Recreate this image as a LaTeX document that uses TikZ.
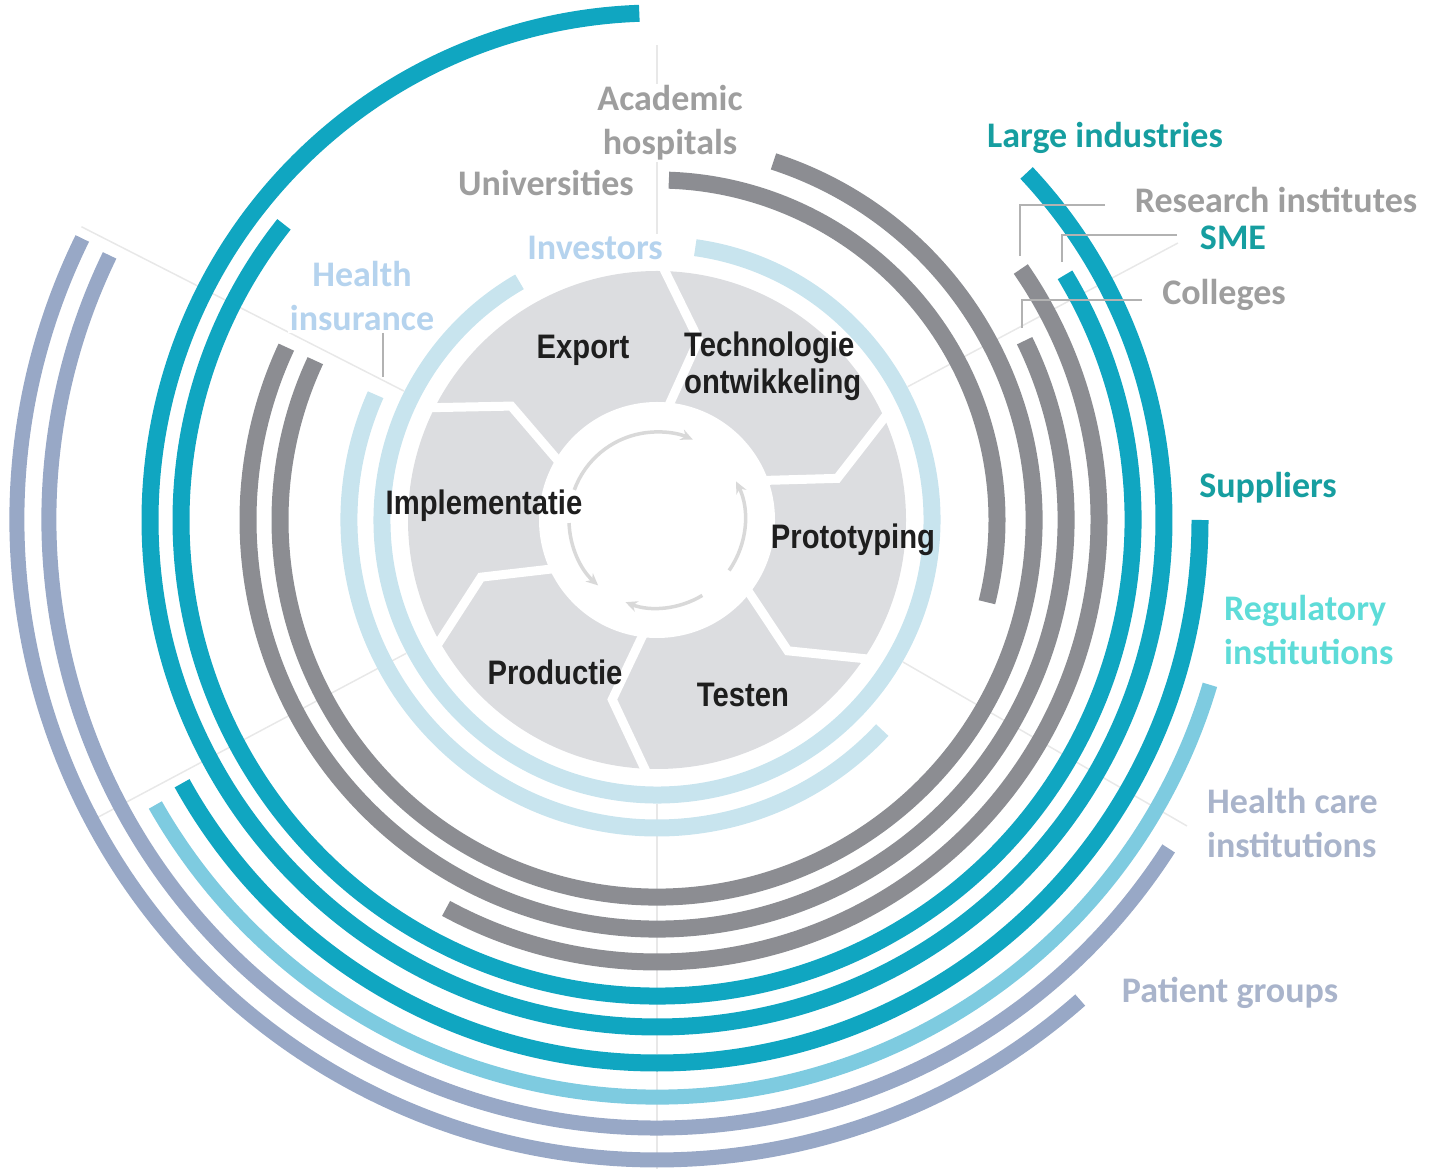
\documentclass[tikz,border=0pt]{standalone}
\usepackage{fontspec}
\setmainfont{Carlito}
\newfontfamily\stagefont{Liberation Sans}[FakeStretch=0.86]
\usetikzlibrary{arrows.meta}

\definecolor{ringteal}{RGB}{16,166,193}
\definecolor{ringgray}{RGB}{140,141,146}
\definecolor{ringlight}{RGB}{200,228,238}
\definecolor{ringaqua}{RGB}{126,203,224}
\definecolor{ringslate}{RGB}{152,168,198}
\definecolor{diskgray}{RGB}{220,221,224}
\definecolor{txtgray}{RGB}{158,158,158}
\definecolor{txtteal}{RGB}{22,158,160}
\definecolor{txtlight}{RGB}{181,211,238}
\definecolor{txtaqua}{RGB}{94,220,216}
\definecolor{txtslate}{RGB}{169,180,203}
\definecolor{stageink}{RGB}{30,30,30}

\begin{document}
\begin{tikzpicture}[
    x=1pt, y=1pt,
    ring/.style={line width=17pt},
    spoke/.style={draw=gray!18, line width=1.5pt},
    leader/.style={draw=gray!60, line width=2pt},
    cycle/.style={draw=gray!30, line width=3.5pt, -{Stealth[length=12pt, width=11pt]}},
    actor/.style={font=\fontsize{36}{44}\selectfont\bfseries, align=center, fill=white, inner sep=2pt},
    stage/.style={font=\stagefont\bfseries\fontsize{34}{37}\selectfont, text=stageink, inner sep=0pt}
]
\useasboundingbox (0,0) rectangle (1435,1168);
\coordinate (C) at (657,648);

\begin{scope}[shift={(C)}]
% Spokes behind everything
\foreach \a/\r in {28/590,90/475,153/646,208/640,270/650,330/612}
    \draw[spoke] (\a:284) -- (\a:\r);

% Inner cycle disk
\fill[diskgray] (0,0) circle (249pt);
\fill[white] (0,0) circle (118pt);
\foreach \a in {89,25,-33,-92,-150,154}
    \draw[white, line width=9pt, line join=miter] (\a:256) -- (\a-12:185) -- (\a-4:110);

% Cycle arrows
\draw[cycle] (160:88) arc[start angle=160, end angle=66, radius=88pt];
\draw[cycle] (-35:88) arc[start angle=-35, end angle=26, radius=88pt];
\draw[cycle] (182:88) arc[start angle=182, end angle=228, radius=88pt];
\draw[cycle] (-59:88) arc[start angle=-59, end angle=-111, radius=88pt];

% Rings - light blue
\draw[ring, ringlight] (82:275) arc[start angle=82, end angle=-240, radius=275pt];
\draw[ring, ringlight] (156:308) arc[start angle=156, end angle=317, radius=308pt];

% Rings - gray
\draw[ring, ringgray] (88:340) arc[start angle=88, end angle=-14, radius=340pt];
\draw[ring, ringgray] (72:377) arc[start angle=72, end angle=-205, radius=377pt];
\draw[ring, ringgray] (26:409) arc[start angle=26, end angle=-205, radius=409pt];
\draw[ring, ringgray] (34.6:442) arc[start angle=34.6, end angle=-118.5, radius=442pt];

% Rings - teal
\draw[ring, ringteal] (31:476) arc[start angle=31, end angle=-218.4, radius=476pt];
\draw[ring, ringteal] (43.2:507) arc[start angle=43.2, end angle=-268, radius=507pt];
\draw[ring, ringteal] (0:543) arc[start angle=0, end angle=-151, radius=543pt];

% Rings - outer
\draw[ring, ringaqua, line width=15pt] (-16.6:577) arc[start angle=-16.6, end angle=-150.4, radius=577pt];
\draw[ring, ringslate, line width=15pt] (154.2:608) arc[start angle=154.2, end angle=327.3, radius=608pt];
\draw[ring, ringslate, line width=15pt] (153.9:640) arc[start angle=153.9, end angle=311.4, radius=640pt];
\end{scope}

% Stages
\node[stage] (export) at (583,818) {Export};
\node[stage, anchor=west, align=left] (tech) at (684,802) {Technologie\\ontwikkeling};
\node[stage] (impl) at (484,662) {Implementatie};
\node[stage] (proto) at (853,628) {Prototyping};
\node[stage] (prod) at (555,496) {Productie};
\node[stage] (test) at (743,473) {Testen};

% Actors
\node[actor, text=txtgray] (academic) at (670,1045) {Academic\\hospitals};
\node[actor, text=txtgray] (univ) at (546,985) {Universities};
\node[actor, text=txtlight] (invest) at (595,920) {Investors};
\node[actor, text=txtlight] (insur) at (362,872) {Health\\insurance};
\node[actor, text=txtteal] (large) at (1105,1030) {Large industries};
\node[actor, text=txtgray] (research) at (1276,968) {Research institutes};
\node[actor, text=txtteal] (sme) at (1233,930) {SME};
\node[actor, text=txtgray] (college) at (1224,873) {Colleges};
\node[actor, text=txtteal] (supply) at (1268,680) {Suppliers};
\node[actor, text=txtaqua, anchor=west, align=left] (regul) at (1222,538) {Regulatory\\institutions};
\node[actor, text=txtslate, anchor=west, align=left] (care) at (1205,345) {Health care\\institutions};
\node[actor, text=txtslate] (patient) at (1230,175) {Patient groups};

% Leader lines
\coordinate (resTab) at (1105,963);
\coordinate (resEnd) at (1020,912);
\coordinate (smeTab) at (1177,933);
\coordinate (smeEnd) at (1062,906);
\coordinate (colTab) at (1142,868);
\coordinate (colEnd) at (1022,840);
\coordinate (insEnd) at (383,791);
\draw[leader] (resTab) -| (resEnd);
\draw[leader] (smeTab) -| (smeEnd);
\draw[leader] (colTab) -| (colEnd);
\draw[leader] (insur.south -| insEnd) -- (insEnd);

\end{tikzpicture}
\end{document}
